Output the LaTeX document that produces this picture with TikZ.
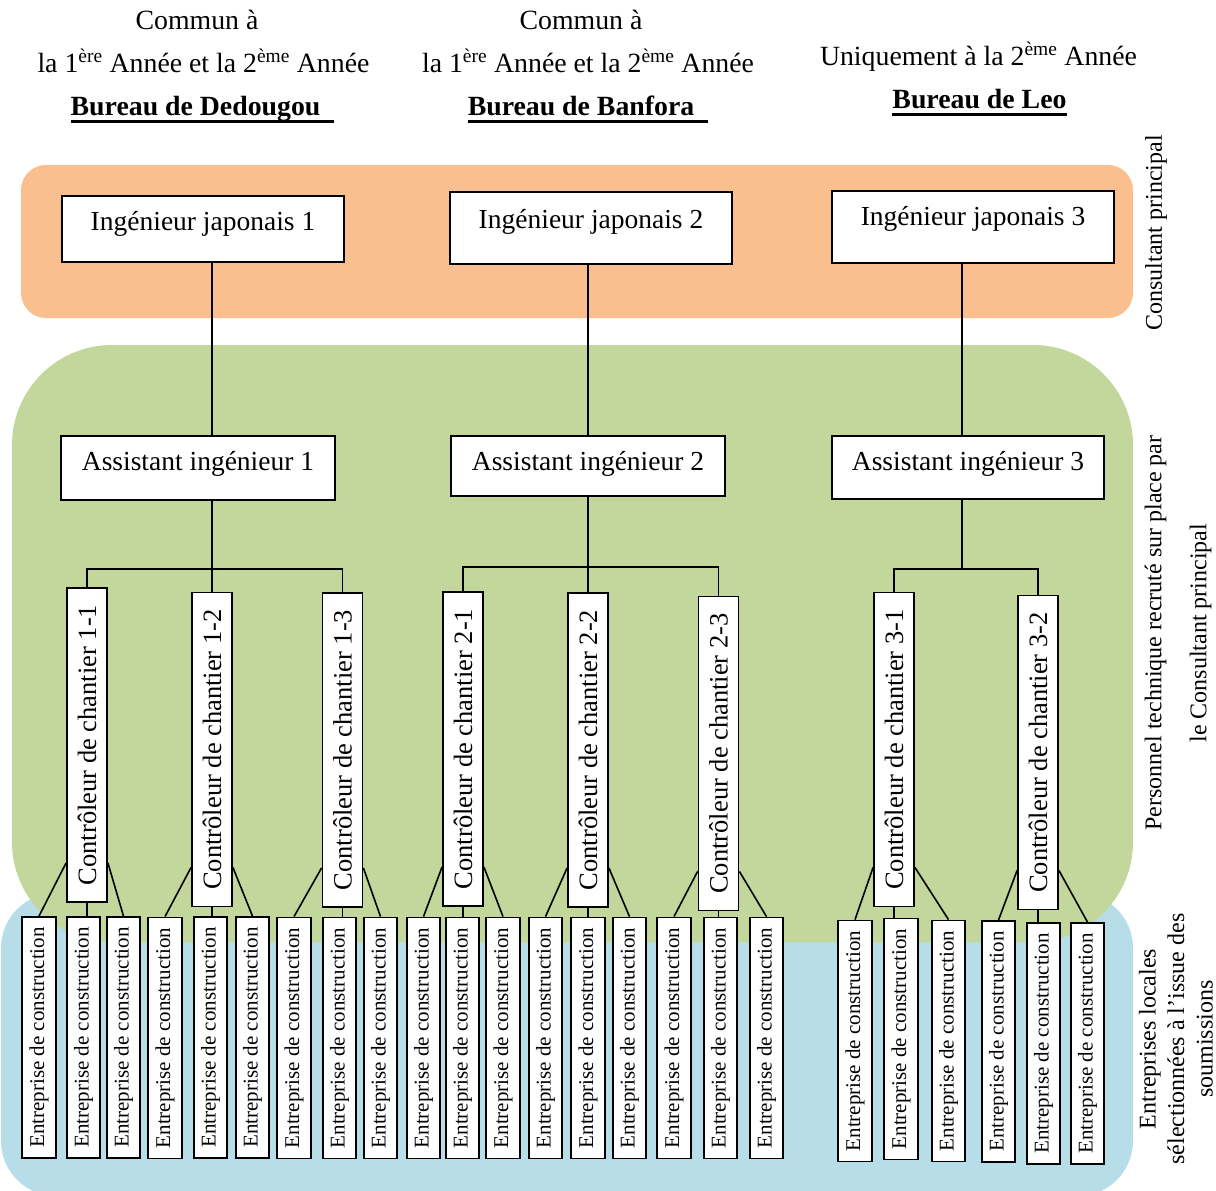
\documentclass[tikz,border=0pt]{standalone}
\usepackage{fontspec}
\setmainfont{Liberation Serif}
\usetikzlibrary{calc}
\definecolor{corange}{HTML}{F9BF8F}
\definecolor{cgreen}{HTML}{C3D69B}
\definecolor{cblue}{HTML}{B7DDE8}
\newcommand\fsmain{\fontsize{27.5}{33}\selectfont}
\newcommand\fshead{\fontsize{27.8}{33}\selectfont}
\newcommand\fsctrl{\fontsize{26.5}{32}\selectfont}
\newcommand\fsent{\fontsize{21}{25}\selectfont}
\newsavebox\myulbox
\newcommand\ulbox[1]{\sbox\myulbox{#1}\rlap{\rule[-7.5pt]{\wd\myulbox}{2.2pt}}\usebox\myulbox}
\tikzset{
  topbox/.style={draw, fill=white, line width=1.8pt, inner sep=0pt, font=\fsmain, anchor=north},
  ctrlbox/.style={draw, fill=white, line width=1.8pt, rotate=90, minimum width=314pt, minimum height=40pt, inner sep=0pt, font=\fsctrl},
  entbox/.style={draw, fill=white, line width=1.8pt, rotate=90, minimum width=241pt, minimum height=33.5pt, inner sep=0pt, font=\fsent},
  headtxt/.style={anchor=base, inner sep=0pt, font=\fshead},
  sidelab/.style={rotate=90, align=center, inner sep=0pt},
  link/.style={line width=1.6pt}
}
\begin{document}
\begin{tikzpicture}[x=1pt, y=-1pt]
\useasboundingbox (0,0) rectangle (1216,1191);
% background bands
\fill[corange, rounded corners=25pt] (21,165) rectangle (1133,318);
\fill[cblue, rounded corners=55pt] (1,893) rectangle (1133,1196);
\fill[cgreen, rounded corners=100pt] (12,345) rectangle (1133,942);

% headers
\node[headtxt] (h11) at (197,29) {Commun à};
\node[headtxt] (h12) at (203.5,72) {la 1\textsuperscript{ère} Année et la 2\textsuperscript{ème} Année};
\node[headtxt] (h13) at (202.5,115) {\ulbox{\textbf{Bureau de Dedougou}\ \ }};
\node[headtxt] (h21) at (581,29) {Commun à};
\node[headtxt] (h22) at (588,72) {la 1\textsuperscript{ère} Année et la 2\textsuperscript{ème} Année};
\node[headtxt] (h23) at (588,115) {\ulbox{\textbf{Bureau de Banfora}\ \ }};
\node[headtxt] (h31) at (978.5,65) {Uniquement à la 2\textsuperscript{ème} Année};
\node[headtxt] (h33) at (979.5,108) {\ulbox{\textbf{Bureau de Leo}}};

% bus junctions
\coordinate (j1) at (212,569);
\coordinate (j2) at (588,567);
\coordinate (j3) at (962,569);

% top level
\node[topbox, minimum width=282pt, text height=35pt, text depth=31pt] (i1) at (203,195) {Ingénieur japonais 1};
\node[topbox, minimum width=282pt, text height=37pt, text depth=35pt] (i2) at (591,191) {Ingénieur japonais 2};
\node[topbox, minimum width=282pt, text height=35pt, text depth=37pt] (i3) at (973,190) {Ingénieur japonais 3};

\node[topbox, minimum width=274pt, text height=35pt, text depth=29pt] (a1) at (198,435) {Assistant ingénieur 1};
\node[topbox, minimum width=274pt, text height=35pt, text depth=25pt] (a2) at (588,435) {Assistant ingénieur 2};
\node[topbox, minimum width=272pt, text height=35pt, text depth=28pt] (a3) at (968,435) {Assistant ingénieur 3};

% controllers
\node[ctrlbox] (c11) at (87,745) {Contrôleur de chantier 1-1};
\node[ctrlbox] (c12) at (212,749.5) {Contrôleur de chantier 1-2};
\node[ctrlbox] (c13) at (342.5,750) {Contrôleur de chantier 1-3};
\node[ctrlbox] (c21) at (463,749) {Contrôleur de chantier 2-1};
\node[ctrlbox] (c22) at (588,750) {Contrôleur de chantier 2-2};
\node[ctrlbox] (c23) at (718.5,753.5) {Contrôleur de chantier 2-3};
\node[ctrlbox] (c31) at (894,749.5) {Contrôleur de chantier 3-1};
\node[ctrlbox] (c32) at (1038,752.5) {Contrôleur de chantier 3-2};

% construction companies
\foreach \n/\x/\y in {1/39/1037.5, 2/83.5/1037.5, 3/123.5/1037.5, 4/165/1038, 5/210.5/1037.5, 6/252.5/1037.5, 7/294/1038, 8/339.5/1038, 9/380.5/1038,
  10/423.5/1038, 11/462.5/1038, 12/503/1038, 13/545.5/1038, 14/588/1038, 15/629.5/1038, 16/674/1038, 17/720.5/1038, 18/766.5/1038,
  19/855/1041, 20/901/1039, 21/948.5/1041, 22/998.5/1041.5, 23/1043.5/1043.5, 24/1087.5/1043.5}
  \node[entbox] (e\n) at (\x,\y) {Entreprise de construction};

% connectors top
\draw[link] (i1.south -| j1) -- (a1.north -| j1);
\draw[link] (i2.south -| j2) -- (a2.north -| j2);
\draw[link] (i3.south -| j3) -- (a3.north -| j3);
\draw[link] (a1.south -| j1) -- (j1);
\draw[link] (a2.south -| j2) -- (j2);
\draw[link] (a3.south -| j3) -- (j3);
\draw[link] (c11.east) -- (c11.east |- j1) -- (c13.east |- j1) -- (c13.east);
\draw[link] (j1) -- (c12.east);
\draw[link] (c21.east) -- (c21.east |- j2) -- (c23.east |- j2) -- (c23.east);
\draw[link] (j2) -- (c22.east);
\draw[link] (c31.east) -- (c31.east |- j3) -- (c32.east |- j3) -- (c32.east);

% connectors to companies
\foreach \c/\l/\m/\r in {c11/1/2/3, c12/4/5/6, c13/7/8/9, c21/10/11/12, c22/13/14/15, c23/16/17/18, c31/19/20/21, c32/22/23/24}{
  \draw[link] ([yshift=40pt]\c.north west) -- (e\l.east);
  \draw[link] (\c.west) -- (\c.west |- e\m.east);
  \draw[link] ([yshift=40pt]\c.south west) -- (e\r.east);
}

% side labels
\node[sidelab, font=\fontsize{24}{29}\selectfont] (l1) at (1156,233) {Consultant principal};
\node[sidelab, font=\fontsize{24}{45}\selectfont] (l2) at (1178,633) {Personnel technique recruté sur place par\\le Consultant principal};
\node[sidelab, font=\fontsize{24}{28.5}\selectfont] (l3) at (1176,1039) {Entreprises locales\\sélectionnées à l’issue des\\soumissions};
\end{tikzpicture}
\end{document}
